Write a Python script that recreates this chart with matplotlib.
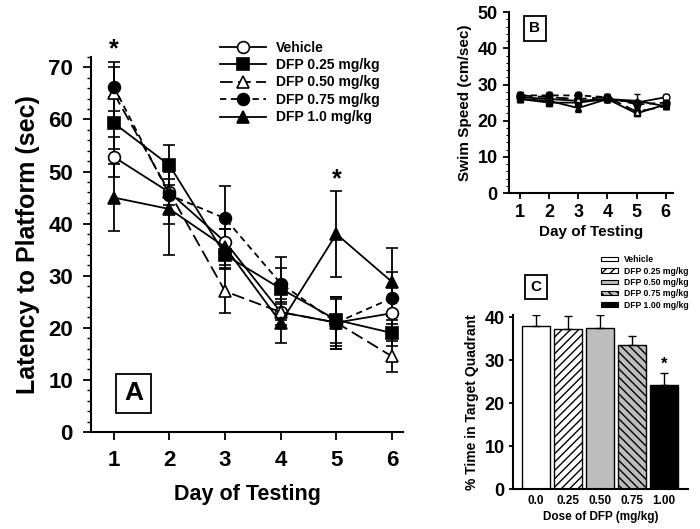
import numpy as np
import matplotlib
matplotlib.use('Agg')
import matplotlib.pyplot as plt
from matplotlib.patches import Patch
from matplotlib.ticker import MultipleLocator

plt.rcParams['font.family'] = ['Liberation Sans', 'DejaVu Sans']
plt.rcParams['font.weight'] = 'bold'
plt.rcParams['hatch.linewidth'] = 1.0

# ---- data ----
days = [1, 2, 3, 4, 5, 6]
groups = ['Vehicle', 'DFP 0.25 mg/kg', 'DFP 0.50 mg/kg', 'DFP 0.75 mg/kg', 'DFP 1.0 mg/kg']

# panel A: latency to platform (sec)
lat_vehicle = [52.8, 46.0, 36.5, 23.0, 21.0, 22.8]
lat_025 = [59.3, 51.2, 34.0, 27.5, 21.5, 19.0]
lat_050 = [65.0, 46.0, 27.0, 23.0, 21.0, 14.5]
lat_075 = [66.3, 45.5, 41.0, 28.5, 21.0, 25.7]
lat_100 = [45.0, 42.8, 35.5, 21.0, 38.0, 28.8]
lat_err_vehicle = [3.8, 2.5, 2.5, 1.5, 4.5, 3.0]
lat_err_025 = [5.0, 3.8, 2.5, 4.0, 4.5, 2.5]
lat_err_050 = [5.0, 4.0, 4.2, 2.5, 5.0, 3.0]
lat_err_075 = [4.7, 5.5, 6.3, 5.0, 5.0, 5.0]
lat_err_100 = [6.5, 8.8, 3.5, 4.0, 8.3, 6.6]

# panel B: swim speed (cm/sec)
spd_vehicle = [26.5, 26.0, 25.5, 26.0, 25.0, 26.5]
spd_025 = [26.0, 25.0, 25.0, 26.0, 22.0, 24.5]
spd_050 = [27.0, 26.5, 26.0, 26.5, 22.5, 24.0]
spd_075 = [27.0, 27.0, 27.0, 26.5, 24.5, 25.0]
spd_100 = [26.0, 25.5, 23.5, 26.0, 25.5, 24.0]
spd_err_vehicle = [0.8, 0.8, 0.8, 0.8, 0.8, 0.8]
spd_err_025 = [0.8, 0.8, 0.8, 0.8, 0.8, 0.8]
spd_err_050 = [0.8, 0.8, 0.8, 0.8, 0.8, 0.8]
spd_err_075 = [0.8, 0.8, 0.8, 0.8, 0.8, 0.8]
spd_err_100 = [0.8, 0.8, 1.0, 0.8, 2.0, 0.8]

# panel C: % time in target quadrant
doses = ['0.0', '0.25', '0.50', '0.75', '1.00']
dose_groups = ['Vehicle', 'DFP 0.25 mg/kg', 'DFP 0.50 mg/kg', 'DFP 0.75 mg/kg', 'DFP 1.00 mg/kg']
pct_time = [38.0, 37.3, 37.4, 33.4, 24.2]
pct_err = [2.4, 2.9, 3.0, 2.1, 2.7]

lat_means = [lat_vehicle, lat_025, lat_050, lat_075, lat_100]
lat_errs = [lat_err_vehicle, lat_err_025, lat_err_050, lat_err_075, lat_err_100]
spd_means = [spd_vehicle, spd_025, spd_050, spd_075, spd_100]
spd_errs = [spd_err_vehicle, spd_err_025, spd_err_050, spd_err_075, spd_err_100]

# styles
markers = ['o', 's', '^', 'o', '^']
facecols = ['white', 'black', 'white', 'black', 'black']
linestyles = ['-', '-', (0, (7, 3)), (0, (3.5, 2.5)), '-']


def style_axes(ax):
    for s in ['top', 'right']:
        ax.spines[s].set_visible(False)
    for s in ['left', 'bottom']:
        ax.spines[s].set_linewidth(1.5)
    ax.tick_params(direction='out', width=1.3)


fig = plt.figure(figsize=(7.0, 5.29), dpi=100)

# ---------------- panel A ----------------
axA = fig.add_axes([0.130, 0.1834, 0.446, 0.709])
for i in range(5):
    axA.errorbar(days, lat_means[i], yerr=lat_errs[i], color='black',
                 marker=markers[i], markerfacecolor=facecols[i], markeredgecolor='black',
                 markersize=8.5, markeredgewidth=1.2, linestyle=linestyles[i], linewidth=1.3,
                 elinewidth=1.3, capsize=4, capthick=1.3, label=groups[i])
axA.set_xlim(0.59, 6.2)
axA.set_ylim(0, 72)
axA.set_yticks(np.arange(0, 71, 10))
axA.yaxis.set_minor_locator(MultipleLocator(2))
axA.set_xticks(days)
style_axes(axA)
axA.tick_params(axis='both', which='major', length=6, labelsize=16, pad=7)
axA.tick_params(axis='y', which='minor', length=3, width=1.0)
for lab in axA.get_xticklabels() + axA.get_yticklabels():
    lab.set_fontweight('bold')
axA.set_xlabel('Day of Testing', fontsize=15.5, fontweight='bold', labelpad=9)
axA.set_ylabel('Latency to Platform (sec)', fontsize=18, fontweight='bold', labelpad=6)
axA.text(1, 73.5, '*', ha='center', va='center', fontsize=18, fontweight='bold', clip_on=False)
axA.text(5, 48.5, '*', ha='center', va='center', fontsize=18, fontweight='bold')
axA.text(1.36, 7.4, 'A', ha='center', va='center', fontsize=19, fontweight='bold',
         bbox=dict(boxstyle='square,pad=0.3', facecolor='white', edgecolor='black', linewidth=1.3))
handles, labels = axA.get_legend_handles_labels()
handles = [h[0] for h in handles]
fig.legend(handles, labels, loc='upper left', bbox_to_anchor=(0.297, 0.947), frameon=False,
           handlelength=3.3, labelspacing=0.25, handletextpad=0.7,
           prop={'weight': 'bold', 'size': 10})

# ---------------- panel B ----------------
axB = fig.add_axes([0.727, 0.635, 0.234, 0.342])
for i in range(5):
    axB.errorbar(days, spd_means[i], yerr=spd_errs[i], color='black',
                 marker=markers[i], markerfacecolor=facecols[i], markeredgecolor='black',
                 markersize=5, markeredgewidth=1.0, linestyle=linestyles[i], linewidth=1.3,
                 elinewidth=1.0, capsize=2, capthick=1.0)
axB.set_xlim(0.623, 6.24)
axB.set_ylim(0, 50)
axB.set_yticks(np.arange(0, 51, 10))
axB.yaxis.set_minor_locator(MultipleLocator(2))
axB.set_xticks(days)
style_axes(axB)
axB.tick_params(axis='both', which='major', length=4, labelsize=13, pad=4)
axB.tick_params(axis='y', which='minor', length=2, width=0.8)
for lab in axB.get_xticklabels() + axB.get_yticklabels():
    lab.set_fontweight('bold')
axB.set_xlabel('Day of Testing', fontsize=11, fontweight='bold', labelpad=3)
axB.set_ylabel('Swim Speed (cm/sec)', fontsize=11, fontweight='bold', labelpad=4)
axB.text(1.51, 45.5, 'B', ha='center', va='center', fontsize=11, fontweight='bold',
         bbox=dict(boxstyle='square,pad=0.35', facecolor='white', edgecolor='black', linewidth=1.3))

# ---------------- panel C ----------------
axC = fig.add_axes([0.733, 0.0756, 0.25, 0.329])
bar_face = ['white', 'white', '#bdbdbd', '#bdbdbd', 'black']
bar_hatch = ['', '////', '', '\\\\\\\\', '']
xpos = np.arange(len(doses))
bars = axC.bar(xpos, pct_time, width=0.86, color=bar_face, edgecolor='black', linewidth=1.0)
for b, h in zip(bars, bar_hatch):
    b.set_hatch(h)
axC.errorbar(xpos, pct_time, yerr=[np.zeros(len(pct_err)), pct_err], fmt='none',
             ecolor='black', elinewidth=1.0, capsize=3, capthick=1.0)
axC.set_xlim(-0.72, 4.75)
axC.set_ylim(0, 40.5)
axC.set_yticks(np.arange(0, 41, 10))
axC.set_xticks(xpos)
axC.set_xticklabels(doses)
style_axes(axC)
axC.tick_params(axis='x', length=0, labelsize=8.5, pad=4)
axC.tick_params(axis='y', length=3, labelsize=13, pad=3)
for lab in axC.get_xticklabels() + axC.get_yticklabels():
    lab.set_fontweight('bold')
axC.set_xlabel('Dose of DFP (mg/kg)', fontsize=8.5, fontweight='bold', labelpad=3)
axC.set_ylabel('% Time in Target Quadrant', fontsize=10, fontweight='bold', labelpad=4)
axC.text(4, 29.0, '*', ha='center', va='center', fontsize=12, fontweight='bold')
axC.text(0, 47.0, 'C', ha='center', va='center', fontsize=11, fontweight='bold', clip_on=False,
         bbox=dict(boxstyle='square,pad=0.35', facecolor='white', edgecolor='black', linewidth=1.3))
leg_handles = [Patch(facecolor=bar_face[i], edgecolor='black', hatch=bar_hatch[i], linewidth=0.8)
               for i in range(5)]
fig.legend(leg_handles, dose_groups, loc='upper left', bbox_to_anchor=(0.854, 0.524), frameon=False,
           handlelength=2.0, handleheight=0.45, labelspacing=0.27, handletextpad=0.6,
           borderaxespad=0.0, prop={'weight': 'bold', 'size': 6.2})

fig.savefig('out.png', dpi=100)
